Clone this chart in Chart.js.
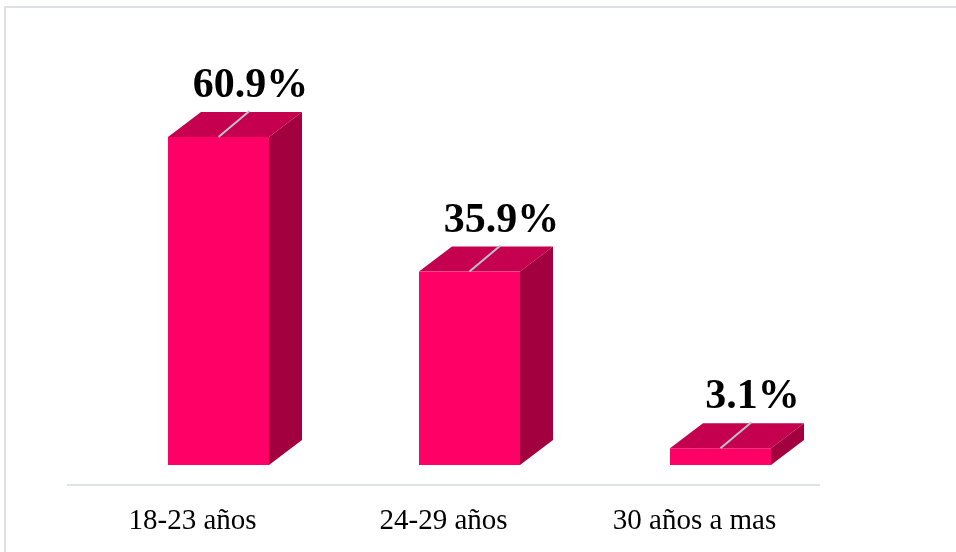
<!DOCTYPE html>
<html>
<head>
<meta charset="utf-8">
<script src="https://cdn.jsdelivr.net/npm/chart.js@4/dist/chart.umd.min.js"></script>
<style>
  html, body { margin: 0; padding: 0; background: #fff; }
  #wrap { width: 956px; height: 552px; position: relative; }
</style>
</head>
<body>
<div id="wrap"><canvas id="chart"></canvas></div>
<script>
const categories = ['18-23 años', '24-29 años', '30 años a mas'];
const percentages = [60.9, 35.9, 3.1];
const valueLabels = ['60.9%', '35.9%', '3.1%'];

const SERIF = "'Times New Roman', 'Liberation Serif', serif";
const FRONT = '#ff0066';
const TOP = '#c4004f';
const SIDE = '#a3003f';
const DEPTH_X = 33, DEPTH_Y = 25, SHIFT = 26, FLOOR_GAP = 20;

// draws each bar as a box: front face, top face and right side
const boxBars = {
  id: 'boxBars',
  beforeDraw(chart) {
    const ctx = chart.ctx;
    ctx.save();
    ctx.fillStyle = '#fff';
    ctx.fillRect(0, 0, chart.width, chart.height);
    ctx.strokeStyle = '#dde1e6';
    ctx.lineWidth = 2;
    ctx.strokeRect(5, 7, chart.width + 20, chart.height + 20);
    ctx.restore();
  },
  afterDatasetsDraw(chart) {
    const ctx = chart.ctx;
    const area = chart.chartArea;
    ctx.save();
    ctx.strokeStyle = '#dfe2e7';
    ctx.lineWidth = 2;
    ctx.beginPath();
    ctx.moveTo(area.left, area.bottom + FLOOR_GAP);
    ctx.lineTo(area.right, area.bottom + FLOOR_GAP);
    ctx.stroke();

    const meta = chart.getDatasetMeta(0);
    meta.data.forEach((bar, i) => {
      const w = bar.width;
      const x0 = bar.x - w / 2 + SHIFT;
      const x1 = x0 + w;
      const yTop = bar.y;
      const yBase = bar.base;

      ctx.fillStyle = FRONT;
      ctx.fillRect(x0, yTop, w, yBase - yTop);

      ctx.fillStyle = TOP;
      ctx.beginPath();
      ctx.moveTo(x0, yTop);
      ctx.lineTo(x0 + DEPTH_X, yTop - DEPTH_Y);
      ctx.lineTo(x1 + DEPTH_X, yTop - DEPTH_Y);
      ctx.lineTo(x1, yTop);
      ctx.closePath();
      ctx.fill();

      ctx.fillStyle = SIDE;
      ctx.beginPath();
      ctx.moveTo(x1, yTop);
      ctx.lineTo(x1 + DEPTH_X, yTop - DEPTH_Y);
      ctx.lineTo(x1 + DEPTH_X, yBase - DEPTH_Y);
      ctx.lineTo(x1, yBase);
      ctx.closePath();
      ctx.fill();

      // leader line from the front edge to the label
      const backMid = x0 + DEPTH_X + w / 2;
      ctx.strokeStyle = '#b9c3d0';
      ctx.lineWidth = 2;
      ctx.beginPath();
      ctx.moveTo(x0 + w / 2, yTop);
      ctx.lineTo(backMid - 2, yTop - DEPTH_Y - 1);
      ctx.stroke();

      ctx.fillStyle = '#000';
      ctx.font = 'bold 42px ' + SERIF;
      ctx.textAlign = 'center';
      ctx.textBaseline = 'alphabetic';
      ctx.fillText(valueLabels[i], backMid - 1, yTop - DEPTH_Y - 15);
    });
    ctx.restore();
  }
};

new Chart(document.getElementById('chart'), {
  type: 'bar',
  data: {
    labels: categories,
    datasets: [{
      data: percentages,
      backgroundColor: 'rgba(0,0,0,0)',
      categoryPercentage: 1,
      barPercentage: 101 / 251
    }]
  },
  options: {
    responsive: true,
    maintainAspectRatio: false,
    animation: false,
    layout: { padding: { left: 67, right: 136, top: 34, bottom: 14 } },
    plugins: { legend: { display: false }, tooltip: { enabled: false } },
    scales: {
      x: {
        grid: { display: false, drawTicks: false },
        border: { display: false },
        ticks: { color: '#000', padding: 39, font: { family: SERIF, size: 29 } },
        afterFit(scale) { scale.height = 73; }
      },
      y: {
        display: false,
        min: 0,
        max: 80
      }
    }
  },
  plugins: [boxBars]
});
</script>
</body>
</html>
